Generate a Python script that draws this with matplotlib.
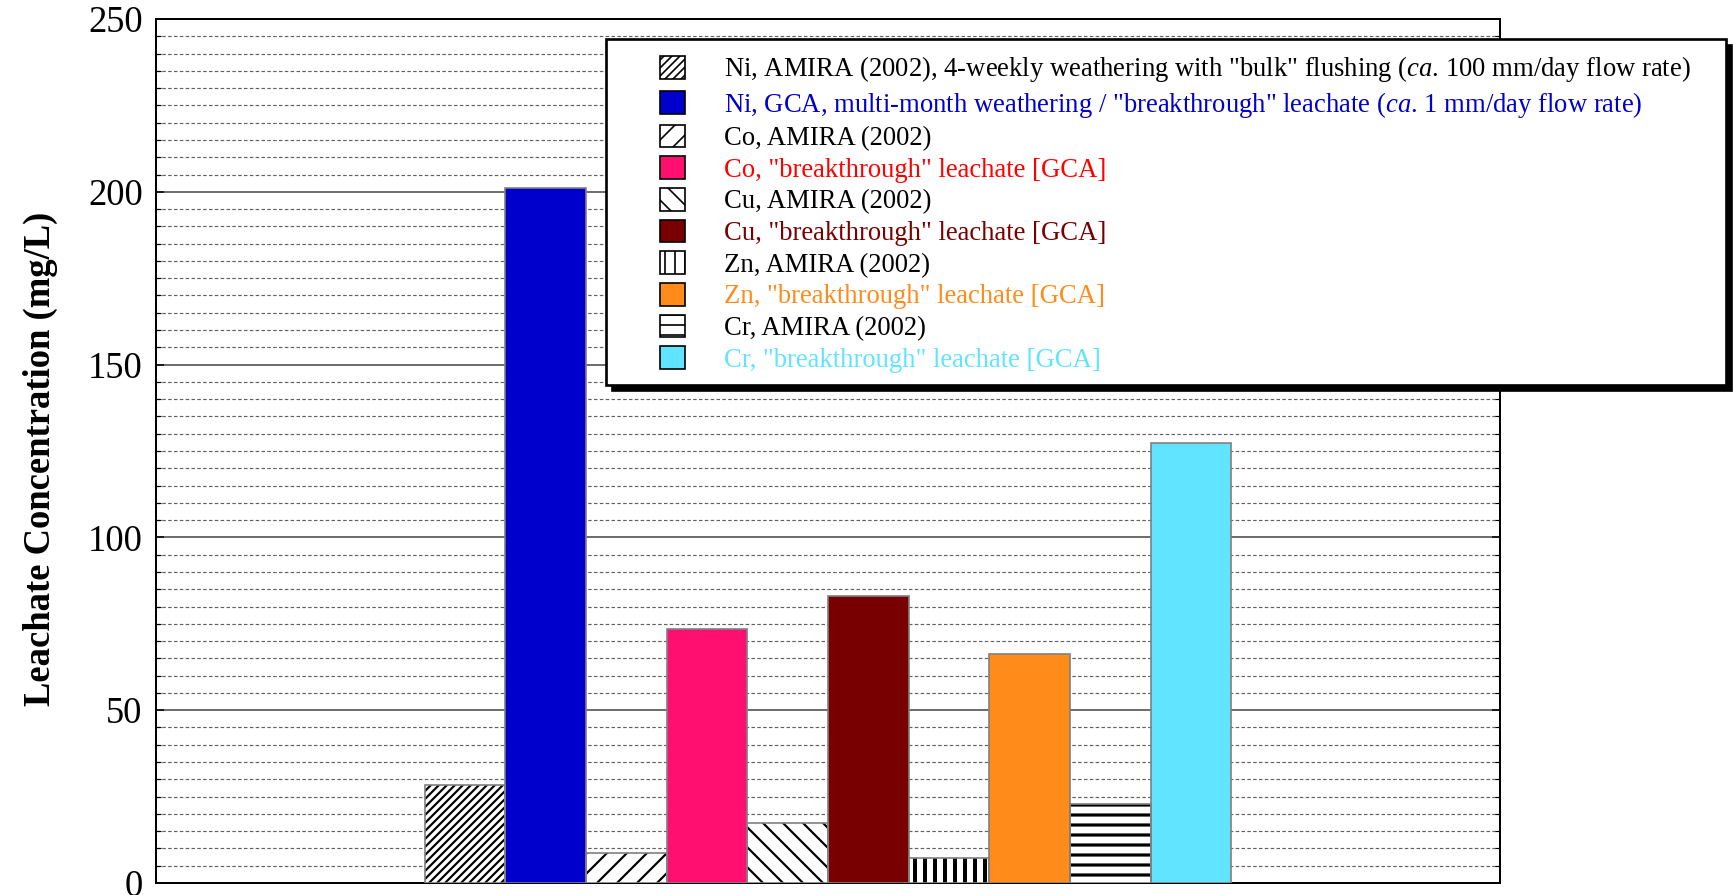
import matplotlib
matplotlib.use("Agg")
import matplotlib.pyplot as plt
from matplotlib.patches import Patch, Rectangle
from matplotlib.ticker import MultipleLocator

plt.rcParams["font.family"] = ["Liberation Serif", "DejaVu Serif"]
plt.rcParams["mathtext.fontset"] = "custom"
plt.rcParams["mathtext.rm"] = "Liberation Serif"
plt.rcParams["mathtext.it"] = "Liberation Serif:italic"

# ---- data -------------------------------------------------------------
labels = [
    'Ni, AMIRA (2002), 4-weekly weathering with "bulk" flushing ($\\mathit{ca}$. 100 mm/day flow rate)',
    'Ni, GCA, multi-month weathering / "breakthrough" leachate ($\\mathit{ca}$. 1 mm/day flow rate)',
    'Co, AMIRA (2002)',
    'Co, "breakthrough" leachate [GCA]',
    'Cu, AMIRA (2002)',
    'Cu, "breakthrough" leachate [GCA]',
    'Zn, AMIRA (2002)',
    'Zn, "breakthrough" leachate [GCA]',
    'Cr, AMIRA (2002)',
    'Cr, "breakthrough" leachate [GCA]',
]
values = [28.3, 201.0, 8.6, 73.5, 17.3, 83.1, 7.3, 66.2, 22.8, 127.2]

# ---- styles -----------------------------------------------------------
face_colors = ["white", "#0000CC", "white", "#FF1070", "white", "#780000",
               "white", "#FF8C1A", "white", "#60E4FF"]
hatches = ["/////", None, "//", None, "\\\\", None, "||", None, "--", None]
hatch_widths = [1.3, 1.0, 1.3, 1.0, 1.3, 1.0, 2.4, 1.0, 1.9, 1.0]
text_colors = ["black", "#0000CC", "black", "#FF0000", "black", "#780000",
               "black", "#FF8C1A", "black", "#60E4FF"]

W, H, DPI = 1733, 895, 120
fig = plt.figure(figsize=(W / DPI, H / DPI), dpi=DPI)
ax = fig.add_axes([156 / W, 1 - 883 / H, (1500 - 156) / W, (883 - 19) / H])

bar_w = 0.06
n = len(values)
for i, (v, fc, h, hw) in enumerate(zip(values, face_colors, hatches, hatch_widths)):
    x = (i - (n - 1) / 2) * bar_w
    with plt.rc_context({"hatch.linewidth": hw}):
        ax.bar([x], [v], width=bar_w, color=fc, edgecolor="black",
               linewidth=0, hatch=h, zorder=3)
    ax.bar([x], [v], width=bar_w, fill=False, edgecolor="#808080",
           linewidth=1.0, zorder=4)

ax.set_xlim(-0.5, 0.5)
ax.set_ylim(0, 250)
ax.set_xticks([])
ax.yaxis.set_major_locator(MultipleLocator(50))
ax.yaxis.set_minor_locator(MultipleLocator(5))
ax.grid(axis="y", which="major", color="#404040", linewidth=0.9, zorder=1)
ax.grid(axis="y", which="minor", color="#606060", linewidth=0.7,
        linestyle=(0, (3, 2)), zorder=1)
ax.set_axisbelow(True)
ax.tick_params(axis="y", which="both", direction="in", right=True,
               labelsize=22, pad=8)
ax.tick_params(axis="y", which="major", length=5, width=0.9)
ax.tick_params(axis="y", which="minor", length=3, width=0.7)
for s in ax.spines.values():
    s.set_linewidth(1.2)
    s.set_color("black")

fig.text(40 / W, 1 - 459 / H, "Leachate Concentration (mg/L)", rotation=90,
         ha="center", va="center", fontsize=22, fontweight="bold")

# ---- legend with drop shadow -----------------------------------------
box_l, box_t, box_r, box_b = 606, 39, 1726, 385
shadow = Rectangle((box_l + 6, H - box_b - 6), box_r - box_l, box_b - box_t,
                   transform=None, facecolor="black", edgecolor="black",
                   zorder=8)
frame = Rectangle((box_l, H - box_b), box_r - box_l, box_b - box_t,
                  transform=None, facecolor="white", edgecolor="black",
                  linewidth=1.6, zorder=9)
fig.patches.extend([shadow, frame])

handles = [Patch(facecolor=fc, edgecolor="black", hatch=h, linewidth=1.0)
           for fc, h in zip(face_colors, hatches)]
leg = fig.legend(handles, labels, loc="upper left",
                 bbox_to_anchor=(660 / W, 1 - 54.5 / H),
                 bbox_transform=fig.transFigure, frameon=False,
                 fontsize=16, borderpad=0, borderaxespad=0,
                 handlelength=0.94, handleheight=0.94, handletextpad=1.46,
                 labelspacing=0.19)
leg.set_zorder(10)
for t, c in zip(leg.get_texts(), text_colors):
    t.set_color(c)

fig.savefig("out.png", dpi=DPI)
